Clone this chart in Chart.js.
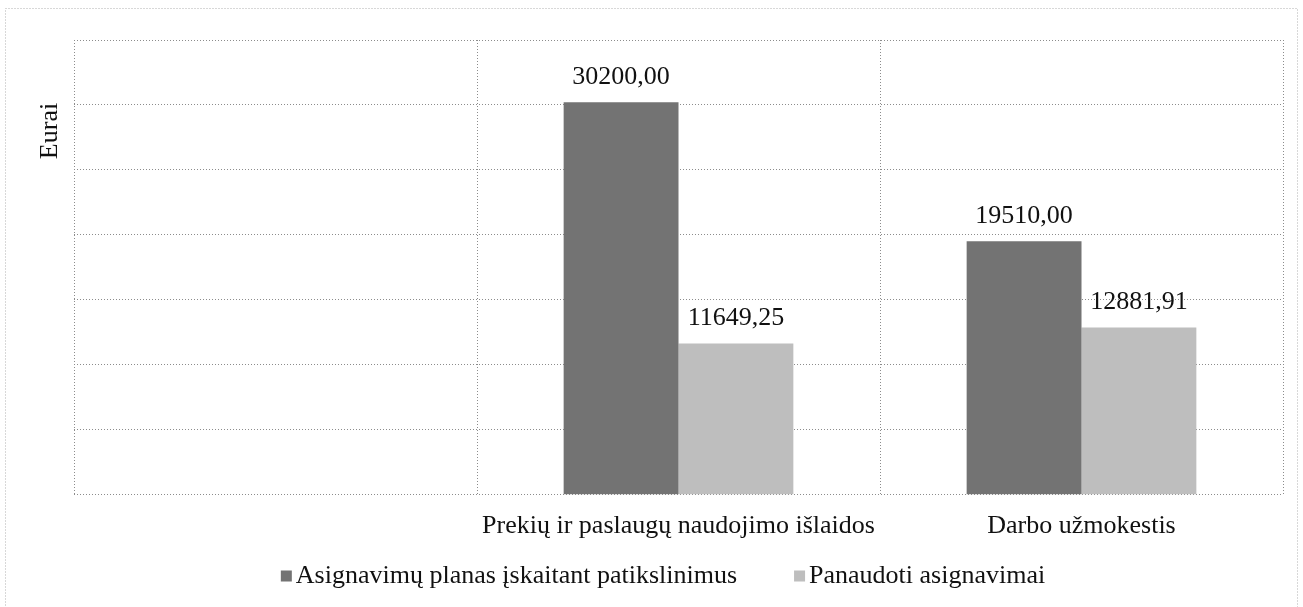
<!DOCTYPE html>
<html>
<head>
<meta charset="utf-8">
<script src="https://cdn.jsdelivr.net/npm/chart.js@4.4.1/dist/chart.umd.min.js"></script>
<style>
    html, body { margin: 0; padding: 0; background: #fff; }
    #wrap { width: 1303px; height: 607px; position: relative; }
</style>
</head>
<body>
<div id="wrap"><canvas id="chart"></canvas></div>
<script>
const categories = ['', 'Prekių ir paslaugų naudojimo išlaidos', 'Darbo užmokestis'];
const planValues = [null, 30200.00, 19510.00];
const usedValues = [null, 11649.25, 12881.91];
const seriesNames = ['Asignavimų planas įskaitant patikslinimus', 'Panaudoti asignavimai'];
const yTitle = 'Eurai';

const serif = '"Liberation Serif", "Times New Roman", serif';
const gridColor = '#8c8c8c';

// value labels above each bar, "30200,00" style
const barLabels = {
    id: 'barLabels',
    afterDatasetsDraw(chart) {
        const ctx = chart.ctx;
        ctx.save();
        ctx.font = '26px ' + serif;
        ctx.fillStyle = '#111';
        ctx.textAlign = 'center';
        ctx.textBaseline = 'alphabetic';
        chart.data.datasets.forEach((ds, i) => {
            chart.getDatasetMeta(i).data.forEach((bar, j) => {
                const v = ds.data[j];
                if (v == null) return;
                ctx.fillText(v.toFixed(2).replace('.', ','), bar.x, bar.y - 18);
            });
        });
        ctx.restore();
    }
};

// legend drawn by hand: the built-in one ties item spacing to its vertical padding
const bottomLegend = {
    id: 'bottomLegend',
    afterDraw(chart) {
        const ctx = chart.ctx;
        const box = 11, gapText = 4, gapItems = 57, y = 576;
        ctx.save();
        ctx.font = '26px ' + serif;
        const items = chart.data.datasets.map(ds => ({
            text: ds.label,
            color: ds.backgroundColor,
            w: box + gapText + ctx.measureText(ds.label).width
        }));
        const total = items.reduce((s, it) => s + it.w, 0) + gapItems * (items.length - 1);
        let x = 663 - total / 2;
        ctx.textBaseline = 'middle';
        ctx.textAlign = 'left';
        items.forEach(it => {
            ctx.fillStyle = it.color;
            ctx.fillRect(x, y - box / 2, box, box);
            ctx.fillStyle = '#111';
            ctx.fillText(it.text, x + box + gapText, y);
            x += it.w + gapItems;
        });
        ctx.restore();
    }
};

// rotated axis title near the top, plus the dotted outer frame
const frame = {
    id: 'frame',
    afterDraw(chart) {
        const ctx = chart.ctx;
        const area = chart.chartArea;
        ctx.save();
        ctx.strokeStyle = '#b0b0b0';
        ctx.setLineDash([1, 2]);
        ctx.lineWidth = 1;
        ctx.strokeRect(5.5, 8.5, 1292, 640);
        ctx.restore();

        ctx.save();
        ctx.translate(area.left - 24, area.top + 91);
        ctx.rotate(-Math.PI / 2);
        ctx.font = '26px ' + serif;
        ctx.fillStyle = '#111';
        ctx.textAlign = 'center';
        ctx.textBaseline = 'middle';
        ctx.fillText(yTitle, 0, 0);
        ctx.restore();
    }
};

new Chart(document.getElementById('chart'), {
    type: 'bar',
    data: {
        labels: categories,
        datasets: [
            {
                label: seriesNames[0],
                data: planValues,
                backgroundColor: '#737373',
                barPercentage: 1,
                categoryPercentage: 0.57
            },
            {
                label: seriesNames[1],
                data: usedValues,
                backgroundColor: '#bebebe',
                barPercentage: 1,
                categoryPercentage: 0.57
            }
        ]
    },
    options: {
        responsive: true,
        maintainAspectRatio: false,
        animation: false,
        layout: { padding: { left: 74, right: 20, top: 40, bottom: 49 } },
        plugins: {
            legend: { display: false },
            tooltip: { enabled: false }
        },
        scales: {
            x: {
                grid: {
                    color: gridColor,
                    drawTicks: false
                },
                border: { display: false, dash: [1, 2] },
                ticks: {
                    font: { family: serif, size: 26 },
                    color: '#111',
                    padding: 16,
                    maxRotation: 0
                }
            },
            y: {
                min: 0,
                max: 35000,
                grid: {
                    color: gridColor,
                    drawTicks: false
                },
                border: { display: false, dash: [1, 2] },
                ticks: { display: false, stepSize: 5000 }
            }
        }
    },
    plugins: [barLabels, bottomLegend, frame]
});
</script>
</body>
</html>
